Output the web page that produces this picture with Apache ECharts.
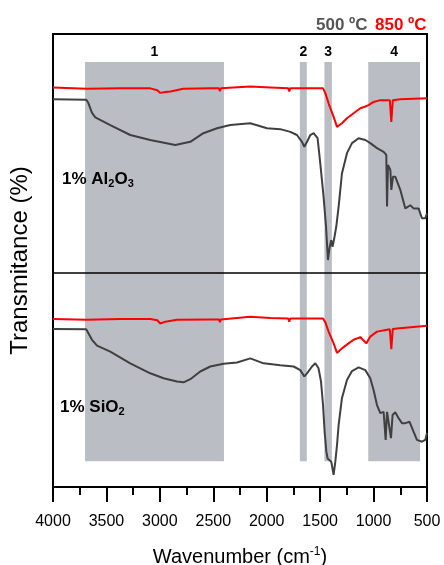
<!DOCTYPE html>
<html>
<head>
<meta charset="utf-8">
<script src="https://cdn.jsdelivr.net/npm/echarts@6/dist/echarts.min.js"></script>
<style>
  html, body { margin: 0; padding: 0; background: #fff; }
  #chart { width: 444px; height: 565px; }
</style>
</head>
<body>
<div id="chart"></div>
<script>
// FTIR spectra, [wavenumber (cm-1), offset transmittance] pairs
const al2o3_500 = [
  [4000, 85.6], [3688, 85.5], [3670, 84.8], [3635, 82.6], [3604, 81.6], [3464, 79.9],
  [3277, 77.7], [3090, 76.6], [2856, 75.5], [2715, 76.2], [2593, 78.1], [2465, 79.2],
  [2341, 79.9], [2154, 80.3], [1997, 79.2], [1873, 79.0], [1779, 78.4], [1717, 77.7],
  [1670, 76.2], [1648, 75.1], [1623, 76.2], [1592, 77.7], [1561, 78.1], [1545, 78.4],
  [1524, 77.0], [1499, 71.5], [1468, 64.1], [1445, 57.5], [1427, 50.1], [1412, 52.8],
  [1396, 54.5], [1384, 53.0], [1368, 54.9], [1349, 57.5], [1327, 61.9], [1296, 69.2],
  [1249, 73.7], [1202, 75.9], [1140, 77.0], [1077, 76.6], [1031, 75.9], [968, 74.8],
  [906, 74.0], [881, 73.3], [874, 61.9], [865, 71.1], [843, 70.0], [834, 65.6],
  [818, 68.5], [797, 68.5], [750, 65.6], [703, 61.5], [656, 62.2], [626, 61.5],
  [579, 61.5], [547, 59.3], [516, 59.3], [500, 60.4]
];
const al2o3_850 = [
  [4000, 88.2], [3682, 87.9], [3370, 88.0], [3089, 88.0], [3024, 87.6], [2996, 87.0],
  [2949, 87.2], [2902, 87.3], [2781, 87.9], [2528, 88.0], [2447, 88.0], [2438, 87.4],
  [2429, 88.0], [2154, 88.4], [1966, 88.2], [1798, 88.0], [1789, 87.3], [1780, 88.0],
  [1592, 88.0], [1473, 88.0], [1452, 87.0], [1421, 84.7], [1374, 81.7], [1342, 79.5],
  [1296, 80.3], [1249, 81.4], [1187, 82.5], [1124, 83.6], [1077, 84.0], [1047, 84.3],
  [1000, 85.0], [937, 85.4], [848, 85.4], [834, 80.6], [820, 85.4], [750, 85.6],
  [500, 85.8]
];
const sio2_500 = [
  [4000, 34.9], [3688, 34.8], [3670, 34.0], [3635, 32.5], [3588, 31.2], [3464, 29.9],
  [3277, 27.3], [3090, 25.1], [2965, 24.0], [2840, 23.3], [2778, 23.1], [2715, 23.8],
  [2622, 25.5], [2528, 26.6], [2404, 27.2], [2278, 27.5], [2154, 28.4], [2029, 27.3],
  [1873, 26.9], [1748, 26.6], [1686, 25.8], [1648, 24.4], [1623, 25.1], [1576, 26.6],
  [1545, 27.3], [1515, 26.2], [1492, 23.3], [1473, 18.1], [1458, 12.2], [1442, 7.8],
  [1430, 6.3], [1412, 6.7], [1396, 5.6], [1374, 2.7], [1358, 5.6], [1342, 9.3],
  [1327, 13.7], [1296, 19.6], [1249, 23.6], [1202, 25.6], [1140, 26.4], [1077, 25.8],
  [1031, 24.0], [1000, 21.4], [968, 18.1], [937, 16.3], [906, 16.6], [887, 10.4],
  [874, 16.6], [859, 16.6], [837, 10.8], [822, 15.9], [797, 16.5], [766, 15.2],
  [734, 14.1], [703, 14.1], [663, 14.4], [626, 12.2], [594, 10.4], [547, 10.0],
  [516, 10.4], [500, 11.9]
];
const sio2_850 = [
  [4000, 37.1], [3682, 36.9], [3370, 37.1], [3089, 37.1], [3024, 36.8], [2996, 36.1],
  [2949, 36.5], [2840, 36.9], [2528, 37.0], [2447, 37.0], [2438, 36.4], [2429, 37.0],
  [2154, 37.6], [1966, 37.3], [1798, 37.2], [1789, 36.5], [1780, 37.2], [1592, 37.2],
  [1473, 37.2], [1452, 36.4], [1421, 34.3], [1374, 31.7], [1342, 29.6], [1296, 30.6],
  [1234, 31.7], [1187, 32.5], [1124, 33.1], [1068, 31.7], [1031, 33.2], [968, 34.3],
  [874, 34.7], [848, 34.8], [834, 30.4], [820, 34.9], [781, 35.0], [500, 35.6]
];

// Shaded vibration regions [from, to] in cm-1, with their labels
const regionLabels = ['1', '2', '3', '4'];
const regionRanges = [[3700, 2400], [1690, 1625], [1460, 1390], [1050, 565]];
const regionTop = 93.8;
const regionBottom = 5.7;
const panelDivider = 47.3;

const xTicks = { min: 500, max: 4000, step: 500 };

const FONT = '"Liberation Sans", Arial, sans-serif';
const GRAY = '#404040';
const RED = '#ff0000';

const chart = echarts.init(document.getElementById('chart'), null, { renderer: 'canvas' });

const lineSeries = (name, data, color, extra) => Object.assign({
  name: name,
  type: 'line',
  data: data,
  showSymbol: false,
  smooth: false,
  lineStyle: { color: color, width: 2 },
  itemStyle: { color: color },
  z: 3
}, extra || {});

const formulaRich = {
  n: { fontFamily: FONT, fontSize: 17, fontWeight: 'bold', color: '#000', lineHeight: 22 },
  s: { fontFamily: FONT, fontSize: 11, fontWeight: 'bold', color: '#000', lineHeight: 22, padding: [10, 0, 0, 0] }
};

chart.setOption({
  animation: false,
  backgroundColor: '#fff',
  title: [
    { text: '{n|500 ºC}', left: 316, top: 17, padding: 0,
      textStyle: { rich: { n: { fontFamily: FONT, fontSize: 17, fontWeight: 'bold', color: '#555' } } } },
    { text: '{n|850 ºC}', left: 375, top: 17, padding: 0,
      textStyle: { rich: { n: { fontFamily: FONT, fontSize: 17, fontWeight: 'bold', color: RED } } } },
    { text: '{n|1% Al}{s|2}{n|O}{s|3}', left: 62, top: 168, padding: 0,
      textStyle: { rich: formulaRich } },
    { text: '{n|1% SiO}{s|2}', left: 60, top: 396, padding: 0,
      textStyle: { rich: formulaRich } }
  ],
  grid: {
    left: 53, right: 17, top: 34, bottom: 78,
    outerBoundsMode: 'none',
    containLabel: false,
    show: true, borderColor: '#000', borderWidth: 2, backgroundColor: 'transparent'
  },
  xAxis: {
    type: 'value',
    inverse: true,
    min: xTicks.min,
    max: xTicks.max,
    interval: xTicks.step,
    name: '{n|Wavenumber (cm}{s|-1}{n|)}',
    nameLocation: 'middle',
    nameGap: 59,
    nameTextStyle: {
      rich: {
        n: { fontFamily: FONT, fontSize: 20, color: '#000' },
        s: { fontFamily: FONT, fontSize: 12, color: '#000', verticalAlign: 'top', padding: [0, 0, 10, 0] }
      }
    },
    axisLine: { show: true, lineStyle: { color: '#000', width: 2 } },
    axisTick: { show: true, length: 15, lineStyle: { color: '#000', width: 2 } },
    minorTick: { show: true, splitNumber: 2, length: 8, lineStyle: { color: '#000', width: 2 } },
    axisLabel: {
      margin: 27, fontFamily: FONT, fontSize: 16, color: '#000',
      formatter: (v) => String(v)
    },
    splitLine: { show: false },
    minorSplitLine: { show: false }
  },
  yAxis: {
    type: 'value',
    min: 0,
    max: 100,
    name: 'Transmitance (%)',
    nameLocation: 'middle',
    nameGap: 21,
    nameTextStyle: { fontFamily: FONT, fontSize: 24, color: '#000' },
    axisLine: { show: true, lineStyle: { color: '#000', width: 2 } },
    axisTick: { show: false },
    axisLabel: { show: false },
    splitLine: { show: false }
  },
  series: [
    lineSeries('850 ºC', al2o3_850, RED, {
      markArea: {
        silent: true,
        itemStyle: { color: '#bbbdc5' },
        label: {
          show: true, position: 'top', distance: 3,
          fontFamily: FONT, fontSize: 14, fontWeight: 'bold', color: '#000'
        },
        data: regionRanges.map((r, i) => [
          { name: regionLabels[i], xAxis: r[0], yAxis: regionTop },
          { xAxis: r[1], yAxis: regionBottom }
        ])
      },
      markLine: {
        silent: true,
        symbol: 'none',
        label: { show: false },
        lineStyle: { color: '#000', width: 1.5, type: 'solid' },
        data: [{ yAxis: panelDivider }]
      }
    }),
    lineSeries('500 ºC', al2o3_500, GRAY),
    lineSeries('850 ºC', sio2_850, RED),
    lineSeries('500 ºC', sio2_500, GRAY)
  ]
});
</script>
</body>
</html>
